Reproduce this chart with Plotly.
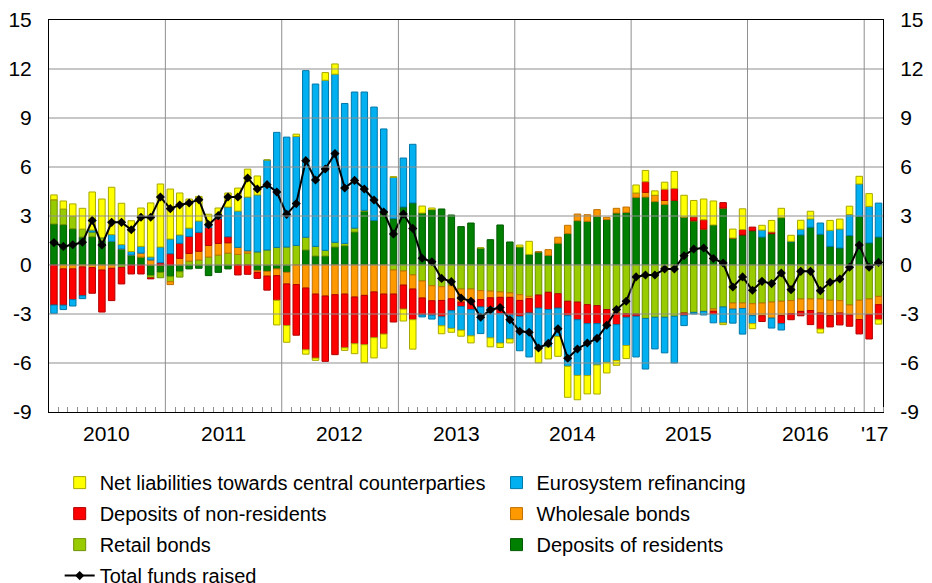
import plotly.graph_objects as go
import pandas as pd

# Monthly observations Jan 2010 .. Feb 2017
months = pd.date_range("2010-01-01", periods=86, freq="MS").strftime("%Y-%m-%d").tolist()

dep_res = [2.51, 2.47, 2.22, 1.71, 1.73, 1.51, 1.45, 0.98, 0.61, 0.49, -0.65, -0.45,
           -0.71, -0.41, -0.24, -0.20, -0.65, -0.45, -0.24, 0.00, 0.00, -0.35, -0.39, -0.24,
           -0.45, 0.00, 0.92, 0.55, 0.55, 1.10, 1.18, 2.02, 3.29, 2.73, 3.29, 2.84,
           3.55, 3.80, 3.18, 3.39, 3.43, 3.06, 2.35, 2.57, 1.04, 1.55, 2.45, 1.41,
           1.10, 0.65, 0.80, 0.59, 1.33, 1.92, 2.71, 2.67, 2.98, 2.78, 3.18, 3.22,
           4.14, 4.16, 3.88, 3.71, 3.96, 2.94, 2.71, 2.20, 2.45, 3.49, 1.65, 1.84,
           2.10, 1.71, 1.92, 2.90, 1.41, 1.84, 2.31, 1.88, 1.14, 1.04, 1.80, 2.98,
           1.35, 1.71]
retail = [1.49, 0.96, 0.76, 0.49, 0.29, 0.16, 0.00, -0.14, 0.00, 0.00, -0.14, -0.33,
          -0.31, -0.33, 0.24, 0.31, 0.49, 0.61, 0.73, 0.65, 0.73, 0.80, 0.92, 1.08,
          1.10, 1.20, 0.78, 0.59, 0.35, 0.29, 0.14, 0.24, 0.06, 0.00, 0.00, -0.31,
          -0.37, -0.61, -0.98, -1.27, -1.33, -1.27, -1.47, -1.47, -1.57, -1.60, -1.65, -1.71,
          -1.82, -1.92, -1.84, -1.67, -1.76, -2.22, -2.27, -2.43, -2.49, -2.73, -2.94, -2.98,
          -3.00, -3.27, -3.20, -3.20, -3.14, -2.94, -2.90, -2.84, -2.69, -2.57, -2.33, -2.33,
          -2.37, -2.33, -2.27, -2.22, -2.18, -2.08, -2.08, -2.08, -2.16, -2.18, -2.45, -2.16,
          -2.08, -1.92]
wholesale = [0.00, -0.24, -0.24, -0.12, -0.16, -0.31, -0.20, 0.00, 0.00, 0.24, 0.31, 0.00,
             -0.18, 0.41, 0.47, 0.53, 0.71, 0.71, 0.63, 0.43, 0.14, -0.10, -0.29, -0.41,
             -0.71, -1.20, -1.41, -1.78, -1.90, -1.82, -1.78, -1.96, -1.86, -1.65, -1.78, -1.47,
             -0.86, -0.86, -1.04, -0.92, -0.84, -0.80, -0.80, -0.65, -0.55, -0.41, -0.33, -0.27,
             -0.35, -0.14, 0.00, 0.35, 0.37, 0.51, 0.41, 0.41, 0.41, 0.14, 0.29, 0.33,
             0.27, 0.29, 0.39, 0.24, 0.00, 0.00, 0.00, 0.00, -0.14, 0.00, -0.37, -0.33,
             -0.73, -0.78, -0.98, -0.88, -0.80, -0.76, -0.71, -0.86, -0.94, -0.76, -0.61, -1.18,
             -0.96, -0.51]
dep_nonres = [-2.45, -2.22, -1.88, -1.76, -1.57, -2.57, -1.98, -1.02, -0.55, -0.55, -0.06, 0.14,
              0.69, 0.92, 1.04, 1.16, 1.10, 1.51, 0.37, -0.61, -0.57, -0.37, -0.86, -1.51,
              -2.55, -3.10, -3.78, -3.92, -4.00, -3.67, -3.29, -2.86, -3.02, -2.80, -2.45, -1.71,
              -1.47, -1.88, -1.04, -0.88, -1.00, -0.73, -0.27, -0.61, -0.45, -0.60, -1.00, -1.08,
              -0.98, -0.88, -0.80, -1.06, -0.88, -0.88, -1.08, -1.16, -1.10, -0.92, -0.71, -0.22,
              -0.14, 0.65, 0.00, 0.69, 0.73, -0.16, 0.24, 0.57, -0.20, 0.33, 0.00, 0.33,
              0.22, -0.35, 0.10, -0.49, -0.37, -0.27, -0.86, -0.98, -0.69, -0.73, -0.69, -0.88,
              -1.49, -0.92]
eurosystem = [-0.51, -0.27, -0.39, -0.18, 0.12, 0.00, 0.41, 0.27, 0.22, 0.41, 0.18, 0.96,
              0.90, 0.51, 0.51, 0.69, 0.22, 0.29, 1.82, 2.22, 3.29, 3.49, 5.51, 7.04,
              6.73, 6.67, 10.20, 9.94, 10.41, 10.29, 8.57, 8.33, 7.24, 6.94, 5.04, 2.53,
              3.00, 3.59, -0.12, -0.24, -0.55, -1.08, -1.45, -1.61, -1.63, -1.85, -1.80, -1.47,
              -2.10, -2.69, -2.51, -2.29, -1.73, -3.10, -3.41, -3.18, -2.53, -2.31, -2.20, -1.73,
              -2.49, -3.10, -1.94, -2.18, -2.86, -0.61, -0.10, -0.22, -0.51, -0.98, -0.86, -1.57,
              -0.49, 0.43, -0.61, -0.39, 0.04, 0.35, 0.51, 0.69, 0.98, 1.16, 1.29, 1.98,
              2.24, 2.08]
ccp = [0.29, 0.49, 0.76, 1.27, 2.33, 2.37, 2.90, 2.53, 1.88, 2.35, 3.31, 3.86,
       3.06, 2.57, 1.78, 1.51, 0.59, 0.37, 0.86, 1.41, 1.71, 1.16, 0.00, -1.51,
       -1.02, 0.14, -0.27, -0.14, 0.47, 0.63, -0.16, -0.61, -1.10, -1.24, -0.86, 0.04,
       -0.73, -1.80, 0.43, 0.10, -0.49, -0.24, -0.37, -0.43, 0.00, -0.55, -0.27, -0.24,
       0.12, 0.80, -0.84, -0.73, -1.22, -1.90, -1.49, -1.12, -1.78, -0.65, -0.29, -0.80,
       0.49, 0.69, 0.27, 0.43, 1.04, 1.33, 1.00, 1.27, 1.47, -0.10, 0.55, 1.27,
       -0.31, 0.29, 0.71, 0.57, 0.37, 0.55, 0.47, -0.24, 0.61, 0.61, 0.51, 0.47,
       0.78, -0.27]
total = [1.37, 1.14, 1.24, 1.39, 2.73, 1.22, 2.61, 2.61, 2.16, 2.92, 2.92, 4.16,
         3.45, 3.67, 3.80, 4.00, 2.47, 3.02, 4.16, 4.16, 5.33, 4.65, 4.92, 4.47,
         3.10, 3.76, 6.39, 5.20, 5.88, 6.82, 4.71, 5.18, 4.65, 3.98, 3.24, 1.90,
         3.12, 2.24, 0.41, 0.20, -0.82, -1.02, -2.02, -2.22, -3.20, -2.75, -2.60, -3.35,
         -4.06, -4.12, -5.08, -4.80, -3.90, -5.71, -5.14, -4.78, -4.49, -3.69, -2.73, -2.22,
         -0.73, -0.61, -0.61, -0.24, -0.24, 0.57, 0.98, 1.04, 0.40, 0.12, -1.35, -0.73,
         -1.55, -1.00, -1.14, -0.49, -1.51, -0.39, -0.39, -1.57, -1.06, -0.86, -0.14, 1.22,
         -0.14, 0.16]

year_labels = ["2010", "2011", "2012", "2013", "2014", "2015", "2016", "'17"]
year_label_dates = ["2010-07-01", "2011-07-01", "2012-07-01", "2013-07-01",
                    "2014-07-01", "2015-07-01", "2016-07-01", "2017-02-01"]
year_starts = ["2011-01-01", "2012-01-01", "2013-01-01", "2014-01-01",
               "2015-01-01", "2016-01-01", "2017-01-01"]
y_ticks = [-9, -6, -3, 0, 3, 6, 9, 12, 15]
y_tick_text = ["-9", "-6", "-3", "0", "3", "6", "9", "12", "15"]

# (name, data, fill, outline, legend, rank) in stacking order
series = [
    ("Deposits of residents", dep_res, "#008000", "#005a00", "legend2", 6),
    ("Retail bonds", retail, "#99CC00", "#6d9200", "legend", 5),
    ("Wholesale bonds", wholesale, "#FF9900", "#c07000", "legend2", 4),
    ("Deposits of non-residents", dep_nonres, "#FF0000", "#b00000", "legend", 3),
    ("Eurosystem refinancing", eurosystem, "#00B0F0", "#0077a8", "legend2", 2),
    ("Net liabilities towards central counterparties", ccp, "#FFFF00", "#a8a800", "legend", 1),
]

FONT = "Liberation Sans, Arial, Helvetica, sans-serif"
TICKSIZE = 21

fig = go.Figure()
for name, vals, col, edge, leg, rank in series:
    fig.add_trace(go.Bar(
        x=months, y=vals, name=name, legend=leg, legendrank=rank, legendgroup=name,
        xperiod="M1", xperiodalignment="middle",
        marker=dict(color=col, line=dict(color=edge, width=1)),
    ))

fig.add_trace(go.Scatter(
    x=months, y=total, name="Total funds raised", legend="legend", legendrank=7,
    legendgroup="total",
    xperiod="M1", xperiodalignment="middle",
    mode="lines+markers",
    line=dict(color="black", width=2),
    marker=dict(symbol="diamond", size=7, color="black"),
))

# invisible trace to show the right axis labels
fig.add_trace(go.Scatter(x=[months[0]], y=[0], yaxis="y2", mode="markers",
                         marker=dict(opacity=0), showlegend=False, hoverinfo="skip"))

shapes = []
for v in y_ticks[1:-1]:
    shapes.append(dict(type="line", xref="x domain", x0=0, x1=1, yref="y", y0=v, y1=v,
                       line=dict(color="#8f8f8f", width=1), layer="above"))
for d in year_starts:
    shapes.append(dict(type="line", xref="x", x0=d, x1=d, yref="y domain", y0=0, y1=1,
                       line=dict(color="#8f8f8f", width=1), layer="above"))

annotations = [
    dict(x=d, y=0, xref="x", yref="paper", text=t, showarrow=False,
         yanchor="middle", yshift=-21, font=dict(size=TICKSIZE, family=FONT, color="black"))
    for d, t in zip(year_label_dates, year_labels)
]

legend_common = dict(orientation="v", yref="paper", y=-0.1304, yanchor="top",
                     xanchor="left", font=dict(size=20, family=FONT, color="black"),
                     traceorder="grouped", tracegroupgap=2, bgcolor="rgba(0,0,0,0)")

fig.update_layout(
    width=932, height=583,
    margin=dict(l=49, r=49, t=20, b=171, autoexpand=False),
    plot_bgcolor="white", paper_bgcolor="white",
    barmode="relative", bargap=0.31,
    font=dict(family=FONT, size=TICKSIZE, color="black"),
    showlegend=True,
    legend=dict(x=0.0128, **legend_common),
    legend2=dict(x=0.5366, **legend_common),
    shapes=shapes,
    annotations=annotations,
    xaxis=dict(
        type="date", range=["2010-01-01", "2017-03-01"],
        showticklabels=False, ticks="",
        showgrid=False, zeroline=False,
        showline=True, linecolor="black", linewidth=1, mirror=True,
        minor=dict(tickmode="linear", tick0="2010-01-01", dtick="M1",
                   ticks="inside", ticklen=5, tickcolor="#8f8f8f", showgrid=False),
    ),
    yaxis=dict(
        range=[-9, 15], tickmode="array", tickvals=y_ticks, ticktext=y_tick_text,
        showgrid=False, zeroline=False,
        showline=True, linecolor="black", linewidth=1, mirror=True,
        ticks="outside", ticklen=12, tickcolor="rgba(0,0,0,0)",
        tickfont=dict(size=TICKSIZE),
    ),
    yaxis2=dict(
        range=[-9, 15], tickmode="array", tickvals=y_ticks, ticktext=y_tick_text,
        overlaying="y", side="right", showgrid=False, zeroline=False,
        ticks="outside", ticklen=12, tickcolor="rgba(0,0,0,0)",
        tickfont=dict(size=TICKSIZE),
    ),
)

fig.write_html("out.html", config={"displayModeBar": False},
               post_script="document.body.style.margin='0px';")
